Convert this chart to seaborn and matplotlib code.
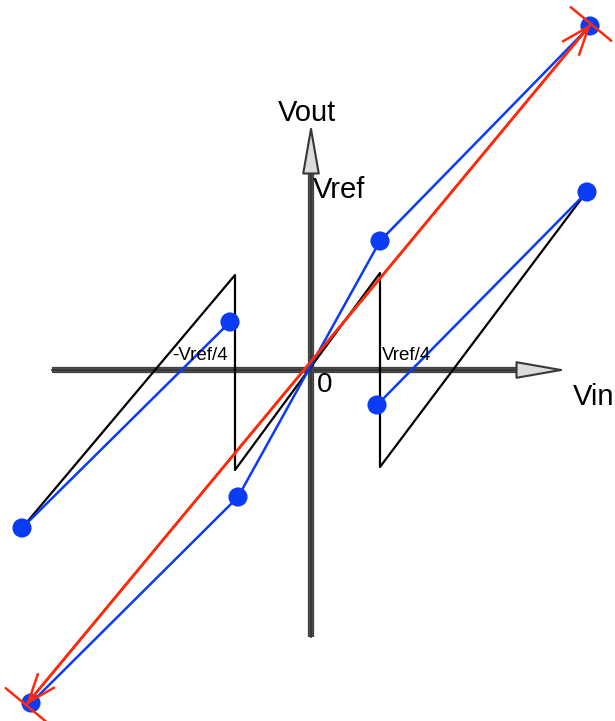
import numpy as np
import pandas as pd
import matplotlib
matplotlib.use("Agg")
import matplotlib.pyplot as plt
from matplotlib.patches import FancyArrowPatch
import seaborn as sns

# diagram units: 1 unit ~ 1 px, origin at the axes crossing
saw_x = [-289, -76, -76, 69, 69, 277]
saw_y = [-158, 95, -100, 97, -97, 180]

blue_seg = ["a", "a", "a", "a", "b", "b", "c", "c"]
blue_x = [-280, -73, 69, 279, -289, -81, 66, 276]
blue_y = [-333, -127, 129, 344, -158, 48, -35, 178]

ideal_x = [-285, 280]
ideal_y = [-335, 346]

axis_h = [-259, 256]
axis_v = [-267, 247]

labels = ["Vout", "Vref", "Vin", "0", "-Vref/4", "Vref/4"]
label_x = [-33, 2, 262, 6, -139, 71]
label_y = [257, 180, -27, -15, 15, 15]
label_size = [21, 21, 21, 20, 13.5, 13.5]

BLUE = "#0a3cf5"
RED = "#ff2a0a"

sns.set_theme(style="white")
plt.rcParams["font.family"] = ["Liberation Sans", "DejaVu Sans"]

fig = plt.figure(figsize=(6.15, 7.21), dpi=100)
ax = fig.add_axes([0, 0, 1, 1])
ax.set_xlim(-311, 304)
ax.set_ylim(-351, 370)
ax.axis("off")

# axes drawn as double-edged arrows with light heads
for (x0, y0), (x1, y1) in [((axis_h[0], 0), (axis_h[1], 0)),
                           ((0, axis_v[0]), (0, axis_v[1]))]:
    ax.plot([x0, x1 * 0.85], [y0, y1 * 0.85], color="#404040", lw=4.5, zorder=1,
            solid_capstyle="butt")
    ax.plot([x0, x1 * 0.85], [y0, y1 * 0.85], color="#bdbdbd", lw=1.6, zorder=1,
            solid_capstyle="butt")
    ax.add_patch(FancyArrowPatch((x0, y0), (x1, y1),
                                 arrowstyle="-|>,head_length=1.6,head_width=0.28",
                                 mutation_scale=20, lw=1.5, edgecolor="#383838",
                                 facecolor="#dcdcdc", shrinkA=0, shrinkB=0,
                                 zorder=1))

saw = pd.DataFrame({"x": saw_x, "y": saw_y, "seg": 0})
sns.lineplot(data=saw, x="x", y="y", units="seg", estimator=None, sort=False,
             color="black", lw=1.6, ax=ax, zorder=2)

ideal = pd.DataFrame({"x": ideal_x, "y": ideal_y})
sns.lineplot(data=ideal, x="x", y="y", sort=False, color=RED, lw=1.6, ax=ax,
             zorder=3)

blue = pd.DataFrame({"x": blue_x, "y": blue_y, "seg": blue_seg})
sns.lineplot(data=blue, x="x", y="y", units="seg", estimator=None, sort=False,
             color=BLUE, lw=1.8, ax=ax, zorder=4)
sns.scatterplot(data=blue, x="x", y="y", color=BLUE, s=190, edgecolor="none",
                ax=ax, zorder=5)

# red arrowheads and end bars
p0 = (ideal_x[0], ideal_y[0])
p1 = (ideal_x[1], ideal_y[1])
ax.add_patch(FancyArrowPatch(p0, p1, arrowstyle="<->,head_length=1.0,head_width=0.38",
                             mutation_scale=20, lw=1.8, color=RED,
                             shrinkA=0, shrinkB=0, zorder=6))
ax.add_patch(FancyArrowPatch(p0, p1, arrowstyle="|-|,widthA=0.95,widthB=0.95",
                             mutation_scale=20, lw=1.8, color=RED,
                             shrinkA=0, shrinkB=0, zorder=6))

for t, x, y, s in zip(labels, label_x, label_y, label_size):
    ax.text(x, y, t, fontsize=s, ha="left", va="center", color="black", zorder=7)

ax.set_xlabel("")
ax.set_ylabel("")
fig.savefig("out.png", dpi=100)
